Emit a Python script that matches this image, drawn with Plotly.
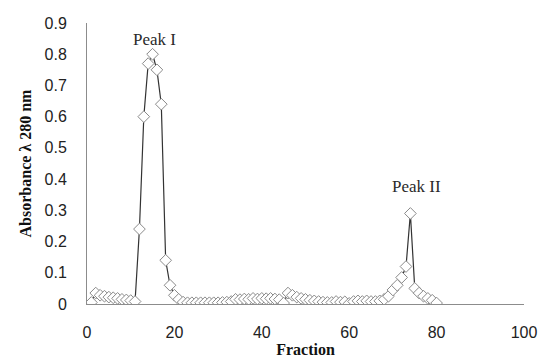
import plotly.graph_objects as go

fraction = list(range(1, 81))
absorbance = [
    0.005, 0.035, 0.028, 0.025, 0.022, 0.020, 0.018, 0.015, 0.013, 0.011,   # 1-10
    0.008, 0.240, 0.600, 0.770, 0.800, 0.750, 0.640, 0.140, 0.060, 0.028,   # 11-20
    0.015, 0.006, 0.004, 0.004, 0.004, 0.004, 0.004, 0.004, 0.004, 0.004,   # 21-30
    0.005, 0.006, 0.008, 0.015, 0.014, 0.016, 0.015, 0.018, 0.016, 0.018,   # 31-40
    0.017, 0.018, 0.016, 0.014, 0.003, 0.035, 0.028, 0.022, 0.018, 0.015,   # 41-50
    0.012, 0.010, 0.008, 0.006, 0.005, 0.005, 0.008, 0.006, 0.007, 0.002,   # 51-60
    0.008, 0.010, 0.008, 0.010, 0.008, 0.008, 0.010, 0.015, 0.025, 0.045,   # 61-70
    0.060, 0.085, 0.120, 0.290, 0.050, 0.035, 0.025, 0.018, 0.012, 0.003,   # 71-80
]

peak_labels = ["Peak I", "Peak II"]
peak_x = [15.5, 75.5]
peak_y = [0.846, 0.375]

fig = go.Figure()
fig.add_trace(go.Scatter(
    x=fraction, y=absorbance, mode="lines+markers",
    line=dict(color="#333333", width=1.2),
    marker=dict(symbol="diamond", size=9, color="white",
                line=dict(color="#8a8a8a", width=1)),
    showlegend=False,
))

for t, x, y in zip(peak_labels, peak_x, peak_y):
    fig.add_annotation(x=x, y=y, text=t, showarrow=False,
                       font=dict(family="Liberation Serif", size=17, color="#2a2a2a"))

fig.update_layout(
    width=539, height=358,
    margin=dict(l=87, r=15, t=23, b=54),
    plot_bgcolor="white", paper_bgcolor="white",
    font=dict(family="Liberation Sans", color="#222222"),
)
fig.update_xaxes(
    range=[0, 100], dtick=20, tick0=0, showgrid=False, zeroline=False,
    showline=True, linecolor="#8c8c8c", linewidth=1, ticks="", automargin=False,
    ticklabelstandoff=14, tickfont=dict(size=16, color="#222222"),
    title=dict(text="<b>Fraction</b>", standoff=5,
               font=dict(family="Liberation Serif", size=16, color="#111111")),
)
fig.update_yaxes(
    range=[0, 0.9], dtick=0.1, tick0=0, showgrid=False, zeroline=False,
    showline=True, linecolor="#8c8c8c", linewidth=1, ticks="", automargin=False,
    ticklabelstandoff=16, tickfont=dict(size=16, color="#222222"),
    title=dict(text="<b>Absorbance λ 280 nm</b>", standoff=8,
               font=dict(family="Liberation Serif", size=16, color="#111111")),
)

fig.write_html(
    "out.html",
    config={"displayModeBar": False},
    post_script="document.body.style.margin='0';document.body.style.overflow='hidden';",
)
